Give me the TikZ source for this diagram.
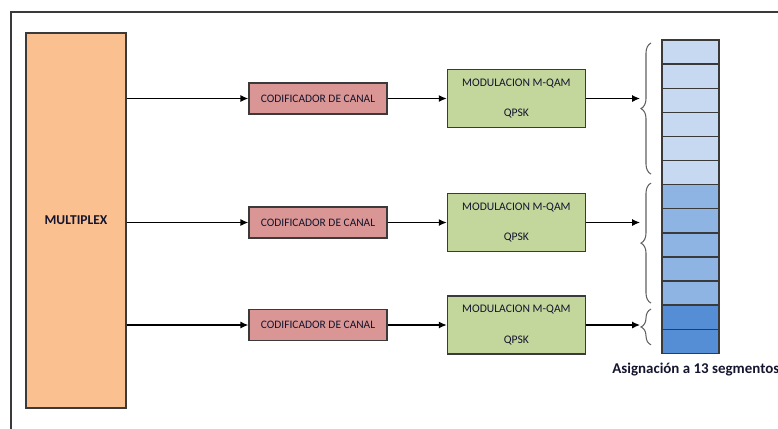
\documentclass[tikz,border=0pt]{standalone}
\usepackage{fontspec}
\setmainfont{Carlito}
\usetikzlibrary{arrows.meta, positioning, decorations.pathreplacing}

\definecolor{muxfill}{HTML}{FAC090}
\definecolor{codfill}{HTML}{D99694}
\definecolor{modfill}{HTML}{C3D69B}
\definecolor{seglight}{HTML}{C6D9F1}
\definecolor{segmid}{HTML}{8EB4E3}
\definecolor{segdark}{HTML}{558ED5}
\definecolor{boxline}{HTML}{3A3A3A}
\definecolor{boxtext}{HTML}{15152F}

\begin{document}
\begin{tikzpicture}[>={Latex[length=4.5pt,width=4pt]}, node distance=1.18cm,
  blk/.style={draw=boxline, line width=0.8pt, inner sep=0pt, text=boxtext},
  codbox/.style={blk, fill=codfill, minimum width=2.76cm, minimum height=0.62cm,
        font=\fontsize{6.5}{7}\selectfont},
  modbox/.style={blk, fill=modfill, minimum width=2.76cm, minimum height=1.16cm,
        font=\fontsize{6.6}{7}\selectfont, align=center},
  segbox/.style={draw=boxline, line width=0.8pt, minimum width=1.14cm,
        minimum height=0.482cm, inner sep=0pt, outer sep=0pt},
  wire/.style={->, line width=0.7pt},
  segbrace/.style={decorate, decoration={brace, amplitude=0.2cm},
        draw=gray!75!black, line width=0.6pt}]
  \useasboundingbox (0,0) rectangle (15.56,-8.56);
  % outer frame
  \draw[boxline, line width=0.7pt] (0.22,-8.7) -- (0.22,-0.24) -- (15.7,-0.24);

  \node[blk, fill=muxfill, minimum width=2cm, minimum height=7.5cm,
        font=\bfseries\fontsize{7.7}{9}\selectfont] (mux) at (1.52,-4.41) {MULTIPLEX};

  \node[codbox] (cod1) at (6.36,-1.97) {CODIFICADOR DE CANAL};
  \node[codbox] (cod2) at (6.36,-4.45) {CODIFICADOR DE CANAL};
  \node[codbox] (cod3) at (6.36,-6.5) {CODIFICADOR DE CANAL};

  \node[modbox, right=of cod1] (mod1) {MODULACION M-QAM\\[0.37cm]QPSK};
  \node[modbox, right=of cod2] (mod2) {MODULACION M-QAM\\[0.37cm]QPSK};
  \node[modbox, right=of cod3] (mod3) {MODULACION M-QAM\\[0.37cm]QPSK};

  % 13 segments
  \node[segbox, fill=seglight, anchor=north] (seg1) at (13.81,-0.8) {};
  \foreach \j/\col [remember=\j as \i (initially 1)] in
      {2/seglight, 3/seglight, 4/seglight, 5/seglight, 6/seglight,
       7/segmid, 8/segmid, 9/segmid, 10/segmid, 11/segmid,
       12/segdark, 13/segdark}
    \node[segbox, fill=\col, below=0pt of seg\i] (seg\j) {};

  \node[font=\bfseries\fontsize{8.5}{10}\selectfont, text=boxtext,
        anchor=west, inner sep=0pt] (asig) at (12.24,-7.4) {Asignación a 13 segmentos};

  % braces
  \draw[segbrace] ([xshift=-0.22cm, yshift=0.21cm]seg6.south west)
               -- ([xshift=-0.22cm, yshift=-0.06cm]seg1.north west);
  \draw[segbrace] ([xshift=-0.22cm, yshift=0.04cm]seg11.south west)
               -- ([xshift=-0.22cm, yshift=0.03cm]seg7.north west);
  \draw[segbrace] ([xshift=-0.22cm, yshift=0.17cm]seg13.south west)
               -- ([xshift=-0.22cm, yshift=-0.08cm]seg12.north west);

  \coordinate (tipx) at (12.8,0);

  \draw[wire] (cod1 -| mux.east) -- (cod1.west);
  \draw[wire] (cod2 -| mux.east) -- (cod2.west);
  \draw[wire] (cod3 -| mux.east) -- (cod3.west);
  \draw[wire] (cod1) -- (mod1);
  \draw[wire] (cod2) -- (mod2);
  \draw[wire] (cod3) -- (mod3);
  \draw[wire] (mod1.east) -- (mod1.east -| tipx);
  \draw[wire] (mod2.east) -- (mod2.east -| tipx);
  \draw[wire] (mod3.east) -- (mod3.east -| tipx);
\end{tikzpicture}
\end{document}
